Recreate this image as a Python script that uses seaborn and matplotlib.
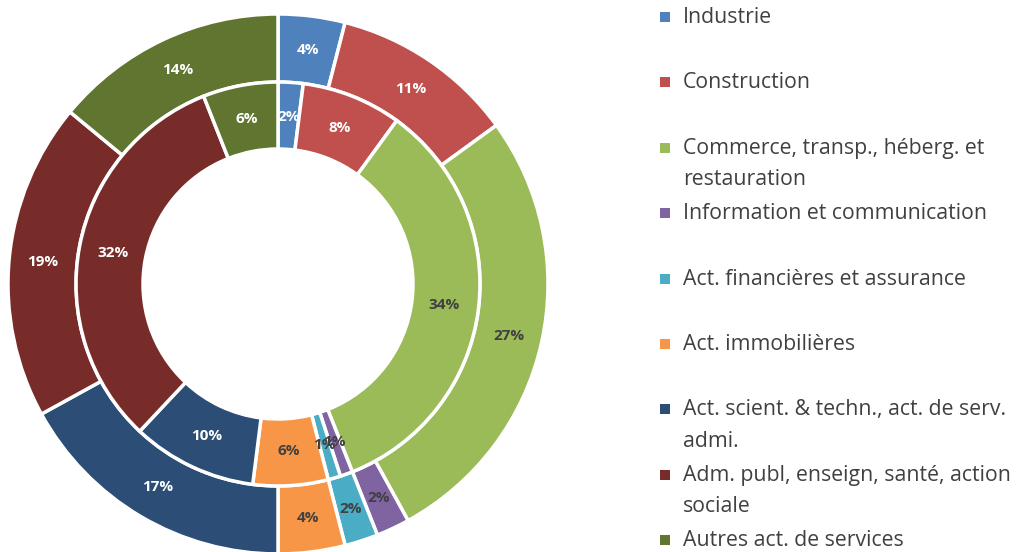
import matplotlib
matplotlib.use("Agg")
import matplotlib.pyplot as plt
import seaborn as sns
from matplotlib.patches import Rectangle

sns.set_style("white")
plt.rcParams['font.family'] = ['Open Sans', 'DejaVu Sans']

categories = ["Industrie", "Construction", "Commerce, transp., héberg. et\nrestauration",
              "Information et communication", "Act. financières et assurance",
              "Act. immobilières", "Act. scient. & techn., act. de serv.\nadmi.",
              "Adm. publ, enseign, santé, action\nsociale", "Autres act. de services"]
outer_vals = [4, 11, 27, 2, 2, 4, 17, 19, 14]
inner_vals = [2, 8, 34, 1, 1, 6, 10, 32, 6]
colors = ["#4F81BD", "#C0504D", "#9BBB59", "#8064A2", "#4BACC6",
          "#F79646", "#2C4D75", "#772C2A", "#5F7530"]
text_colors = ["white", "white", "#404040", "#404040", "#404040",
               "#404040", "white", "white", "white"]

W, H = 1025, 552
fig = plt.figure(figsize=(W / 100, H / 100), dpi=100)
# pie axes: centre (278, 284) px, outer radius 270 px
ax = fig.add_axes([8 / W, (H - 284 - 270) / H, 540 / W, 540 / H])

wedge_kw = dict(edgecolor="white", linewidth=2.5)
text_kw = dict(fontsize=11, fontweight="bold")

_, t_out = ax.pie(outer_vals, radius=1.0, colors=colors, startangle=90,
                  counterclock=False, labels=[f"{v}%" for v in outer_vals],
                  labeldistance=0.875, wedgeprops=dict(width=0.252, **wedge_kw),
                  textprops=text_kw)
_, t_in = ax.pie(inner_vals, radius=0.748, colors=colors, startangle=90,
                 counterclock=False, labels=[f"{v}%" for v in inner_vals],
                 labeldistance=0.83, wedgeprops=dict(width=0.248, **wedge_kw),
                 textprops=text_kw)
for t, c in zip(t_out + t_in, text_colors + text_colors):
    t.set_color(c)
    t.set_ha("center")
    t.set_va("center")
ax.set_xlim(-1, 1)
ax.set_ylim(-1, 1)
ax.set_aspect("equal")
ax.axis("off")

# legend, laid out like the original
y0, step = 17, 65.4
for i, (lab, col) in enumerate(zip(categories, colors)):
    y = y0 + step * i
    fig.patches.append(Rectangle(((665 - 5) / W, 1 - (y + 5) / H), 10 / W, 10 / H,
                                 transform=fig.transFigure, facecolor=col,
                                 edgecolor="none"))
    fig.text(683 / W, 1 - (y - 10) / H, lab, fontsize=15.3, color="#404040",
             va="top", ha="left", linespacing=1.65)

fig.savefig("out.png", dpi=100)
